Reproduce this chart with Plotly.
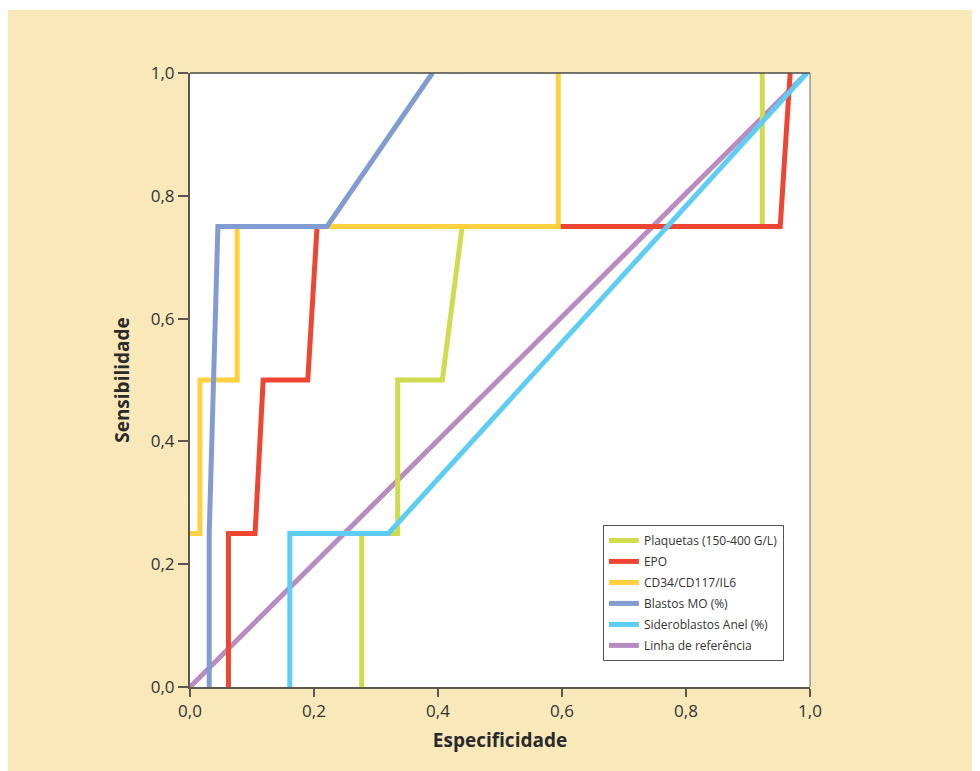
import plotly.graph_objects as go

# ---- data (specificity on x, sensitivity on y) ----
plaq_x = [0.277, 0.277, 0.335, 0.335, 0.407, 0.439, 0.923, 0.923]
plaq_y = [0.0, 0.25, 0.25, 0.5, 0.5, 0.75, 0.75, 1.0]

epo_x = [0.062, 0.062, 0.105, 0.118, 0.190, 0.205, 0.952, 0.968]
epo_y = [0.0, 0.25, 0.25, 0.5, 0.5, 0.75, 0.75, 1.0]

cd34_x = [0.0, 0.016, 0.016, 0.076, 0.076, 0.594, 0.594]
cd34_y = [0.25, 0.25, 0.5, 0.5, 0.75, 0.75, 1.0]

blast_x = [0.031, 0.031, 0.045, 0.221, 0.391]
blast_y = [0.0, 0.25, 0.75, 0.75, 1.0]

sider_x = [0.161, 0.161, 0.320, 0.995]
sider_y = [0.0, 0.25, 0.25, 1.0]

ref_x = [0.0, 0.995]
ref_y = [0.0, 1.0]

tick_vals = [0.0, 0.2, 0.4, 0.6, 0.8, 1.0]

# name, x, y, color, legend rank ; listed in drawing order
series = [
    ("Linha de referência", ref_x, ref_y, "#B98CC1", 6),
    ("Plaquetas (150-400 G/L)", plaq_x, plaq_y, "#D0DC4E", 1),
    ("EPO", epo_x, epo_y, "#EE4632", 2),
    ("CD34/CD117/IL6", cd34_x, cd34_y, "#FFD040", 3),
    ("Blastos MO (%)", blast_x, blast_y, "#819CD1", 4),
    ("Sideroblastos Anel (%)", sider_x, sider_y, "#5ECDF4", 5),
]

fig = go.Figure()
for name, xs, ys, col, rank in series:
    fig.add_trace(go.Scatter(
        x=xs, y=ys, mode="lines", name=name,
        line=dict(color=col, width=5),
        legendrank=rank, legendgroup=name,
    ))

BEIGE = "#F8E8BA"
AX = "#5E574E"
FONT = "Open Sans, sans-serif"

fig.update_layout(
    width=980, height=771,
    margin=dict(l=182, r=178, t=65, b=92),
    paper_bgcolor=BEIGE,
    plot_bgcolor="white",
    separators=",.",
    showlegend=True,
    font=dict(family=FONT, color="#333333"),
    legend=dict(
        x=0.666, y=0.264, xanchor="left", yanchor="top",
        bgcolor="white", bordercolor="#555555", borderwidth=1,
        font=dict(size=12, color="#333333", family=FONT),
        tracegroupgap=2,
    ),
    xaxis=dict(
        range=[0, 1], tickvals=tick_vals, tickformat=".1f",
        showgrid=False, zeroline=False,
        showline=True, linecolor=AX, linewidth=2,
        ticks="outside", ticklen=8, tickcolor=AX, tickwidth=1.5,
        tickfont=dict(size=17, color="#333333", family=FONT),
        title=dict(text="<b>Especificidade</b>", font=dict(size=19, color="#2a2a2a", family=FONT), standoff=12),
    ),
    yaxis=dict(
        range=[0, 1], tickvals=tick_vals, tickformat=".1f",
        showgrid=False, zeroline=False,
        showline=True, linecolor=AX, linewidth=2,
        ticks="outside", ticklen=10, tickcolor=AX, tickwidth=1.5,
        tickfont=dict(size=17, color="#333333", family=FONT),
        title=dict(text="<b>Sensibilidade</b>", font=dict(size=19, color="#2a2a2a", family=FONT), standoff=16),
    ),
    shapes=[
        # thin white strip at the very top
        dict(type="rect", xref="paper", yref="paper", x0=-0.4, x1=1.4,
             y0=(679 - 2) / 614, y1=1.3, fillcolor="white", line=dict(width=0), layer="below"),
        # top and right frame lines
        dict(type="line", xref="paper", yref="paper", x0=0, x1=1, y0=1, y1=1,
             line=dict(color="#4a4a4a", width=1.5), layer="above"),
        dict(type="line", xref="paper", yref="paper", x0=1, x1=1, y0=0, y1=1,
             line=dict(color="#6a6a6a", width=1), layer="above"),
    ],
)

fig.write_html("out.html")
